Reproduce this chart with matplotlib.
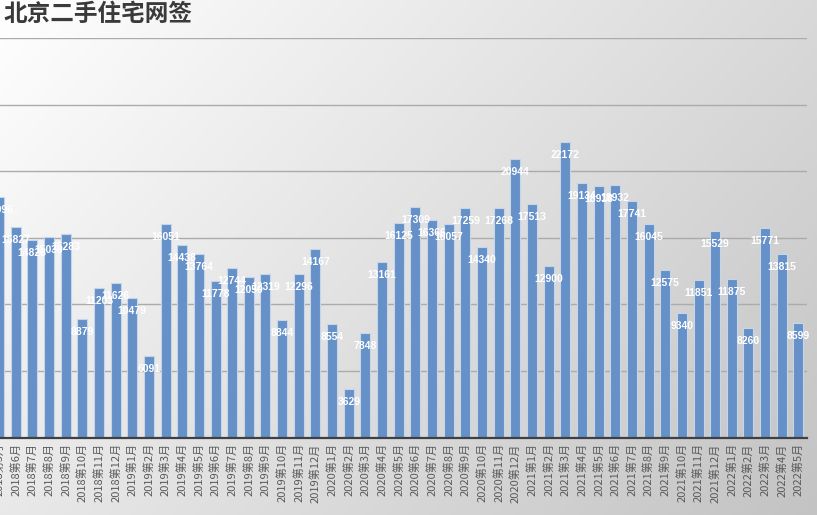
import numpy as np
import matplotlib
matplotlib.use("Agg")
import matplotlib.pyplot as plt

plt.rcParams['font.family'] = ['Noto Sans CJK SC', 'DejaVu Sans']

# monthly values, 2018-05 .. 2022-05
years = [2018] * 8 + [2019] * 12 + [2020] * 12 + [2021] * 12 + [2022] * 5
months = list(range(5, 13)) + list(range(1, 13)) * 3 + list(range(1, 6))
labels = [f"{y}第{m}月" for y, m in zip(years, months)]

values = [18096, 15827, 14828, 15030, 15283, 8879, 11203, 11626,
          10479, 6091, 16051, 14438, 13764, 11778, 12744, 12050, 12319, 8844, 12296, 14167,
          8554, 3629, 7848, 13161, 16125, 17309, 16366, 16057, 17259, 14340, 17268, 20944,
          17513, 12900, 22172, 19134, 18918, 18932, 17741, 16045, 12575, 9340, 11851, 15529,
          11875, 8260, 15771, 13815, 8599]

fig = plt.figure(figsize=(8.17, 5.15), dpi=100)

# gradient background (white top-left -> grey bottom-right)
bg = fig.add_axes([0, 0, 1, 1], zorder=-1)
gx, gy = np.meshgrid(np.linspace(0, 1, 400), np.linspace(0, 1, 260))
shade = (255 - 38 * gx - 22 * gy) / 255.0
bg.imshow(np.dstack([shade] * 3), aspect='auto', extent=[0, 1, 0, 1], origin='upper')
bg.axis("off")

ax = fig.add_axes([-0.0114, 0.1503, 0.9989, 0.7758])
ax.set_facecolor("none")
x = np.arange(len(values))
bars = ax.bar(x, values, width=0.6, color="#6590C8", edgecolor="#c5d5ea", linewidth=0.8, zorder=3)

for xi, v in zip(x, values):
    ax.annotate(str(v), (xi, v), xytext=(0, -13), textcoords="offset pixels",
                ha="center", va="center", color="white", fontsize=7.5,
                fontweight="bold", family=["Liberation Sans"], zorder=5)

ax.set_xlim(-0.5, len(values) - 0.5)
ax.set_ylim(0, 30000)
ax.set_yticks(np.arange(0, 30001, 5000))
ax.yaxis.grid(True, color="#ababab", linewidth=1.0, zorder=0)
ax.tick_params(axis="y", left=False, labelleft=False)
ax.set_xticks(x)
ax.set_xticklabels(labels, rotation=90, fontsize=8, color="#595959")
ax.tick_params(axis="x", length=0, pad=4)
for s in ["top", "right", "left"]:
    ax.spines[s].set_visible(False)
ax.spines["bottom"].set_color("#404040")
ax.spines["bottom"].set_linewidth(1.6)
ax.spines["bottom"].set_zorder(4)

fig.text(0.004, 0.972, "北京二手住宅网签", fontsize=17, color="#3a3a3a",
         ha="left", va="center", fontweight="bold")

fig.savefig("out.png", dpi=100)
